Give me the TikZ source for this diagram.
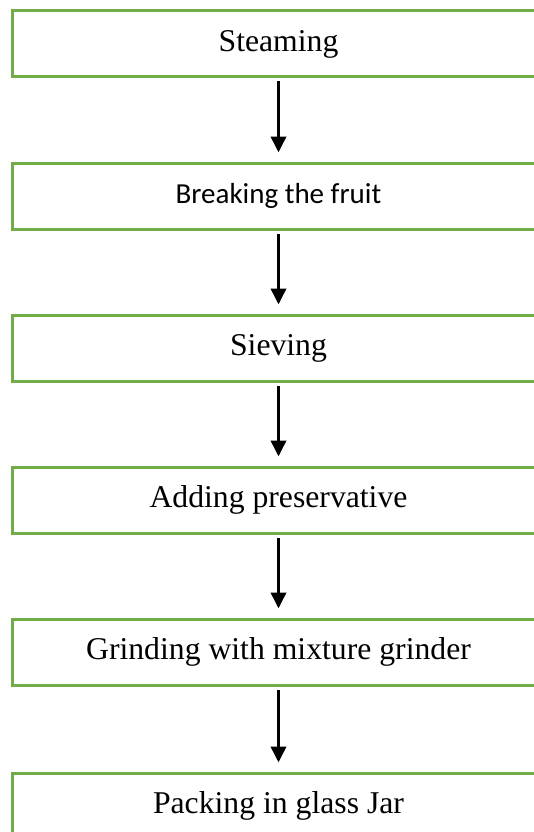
\documentclass[tikz,border=0pt]{standalone}
\usepackage{fontspec}
\setmainfont{Liberation Serif}
\newfontfamily\calibrifont{Carlito}
\usetikzlibrary{arrows.meta}
\definecolor{boxgreen}{HTML}{70AD47}

\begin{document}
\begin{tikzpicture}[x=1pt, y=1pt, node distance=152pt,
    stepbox/.style={rectangle, draw=boxgreen, line width=3pt, fill=white, minimum width=533pt, minimum height=66pt, inner sep=0pt, font=\fontsize{31.7}{38}\selectfont},
    flow/.style={-{Triangle[width=15pt, length=16pt]}, line width=3.6pt, shorten <=3pt, shorten >=9pt}]
    \useasboundingbox (0,0) rectangle (533,-832);
    \node[stepbox] (steaming) at (278.5,-44) {Steaming};
    \node[stepbox, below of=steaming, font=\calibrifont\fontsize{29}{35}\selectfont] (breaking) {Breaking the fruit};
    \node[stepbox, below of=breaking] (sieving) {Sieving};
    \node[stepbox, below of=sieving] (adding) {Adding preservative};
    \node[stepbox, below of=adding] (grinding) {Grinding with mixture grinder};
    \node[stepbox, below of=grinding, yshift=-2pt] (packing) {Packing in glass Jar};
    \draw[flow] (steaming) -- (breaking);
    \draw[flow] (breaking) -- (sieving);
    \draw[flow] (sieving) -- (adding);
    \draw[flow] (adding) -- (grinding);
    \draw[flow] (grinding) -- (packing);
\end{tikzpicture}
\end{document}
